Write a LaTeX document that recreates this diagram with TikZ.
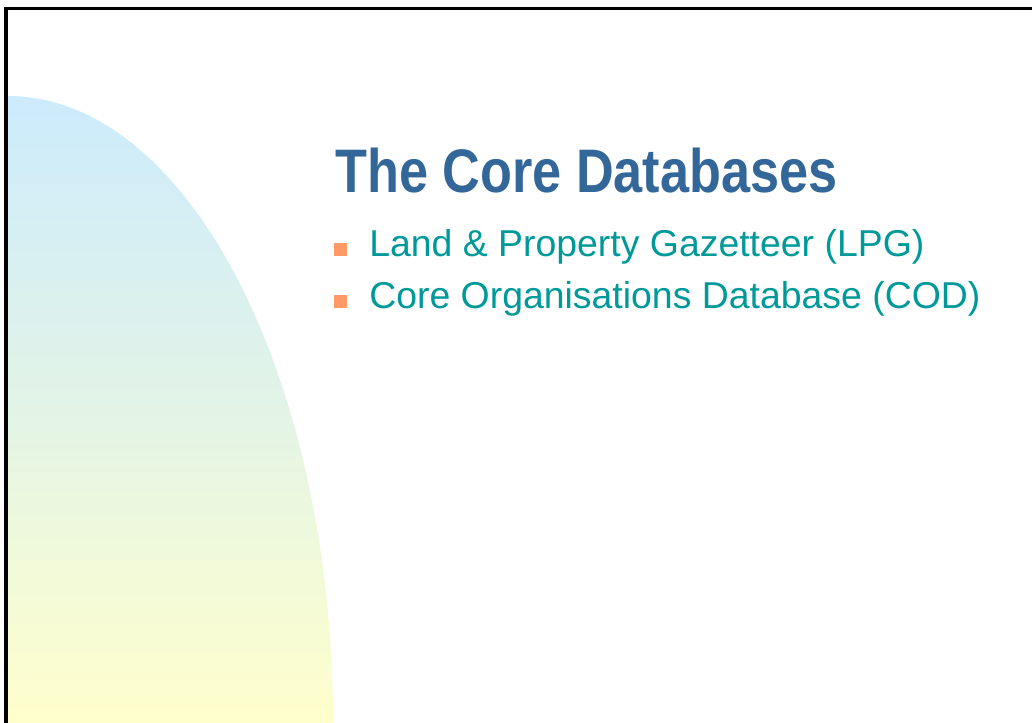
\documentclass[tikz,border=0pt]{standalone}
\usepackage{fontspec}
\setmainfont{Liberation Sans}
\newfontfamily\titlefont[FakeStretch=0.85]{Liberation Sans}
\definecolor{titleblue}{RGB}{51,102,153}
\definecolor{itemteal}{RGB}{0,153,153}
\definecolor{markorange}{RGB}{255,153,102}
\definecolor{paleblue}{RGB}{204,235,252}
\definecolor{paleyellow}{RGB}{255,255,204}
\tikzset{
  title/.style={inner sep=0pt,anchor=base west,text=titleblue,font=\titlefont\bfseries\fontsize{43.7}{50}\selectfont},
  item/.style={inner sep=0pt,anchor=base west,text=itemteal,font=\fontsize{26.6}{32}\selectfont},
  mark box/.style={fill=markorange,inner sep=0pt,minimum size=8.8pt,anchor=south west}
}

\begin{document}
\begin{tikzpicture}[x=0.025cm,y=-0.025cm]
    \useasboundingbox (0,0) rectangle (1032,723);
    % shaded quarter ellipse
    \begin{scope}
      \clip (8,723) ellipse [x radius=325,y radius=627];
      \shade[top color=paleblue,bottom color=paleyellow,middle color=paleblue!55!paleyellow] (7,96) rectangle (340,723);
    \end{scope}
    \draw[line width=2.2pt] (6,723) -- (6,8.5) -- (1032,8.5);
    \node[title] (head) at (335,192) {The Core Databases};
    \node[mark box] (m1) at (334,256) {};
    \node[item] (lpg) at (369,256) {Land \& Property Gazetteer (LPG)};
    \node[mark box] (m2) at (334,308) {};
    \node[item] (cod) at (369,308) {Core Organisations Database (COD)};
\end{tikzpicture}
\end{document}
